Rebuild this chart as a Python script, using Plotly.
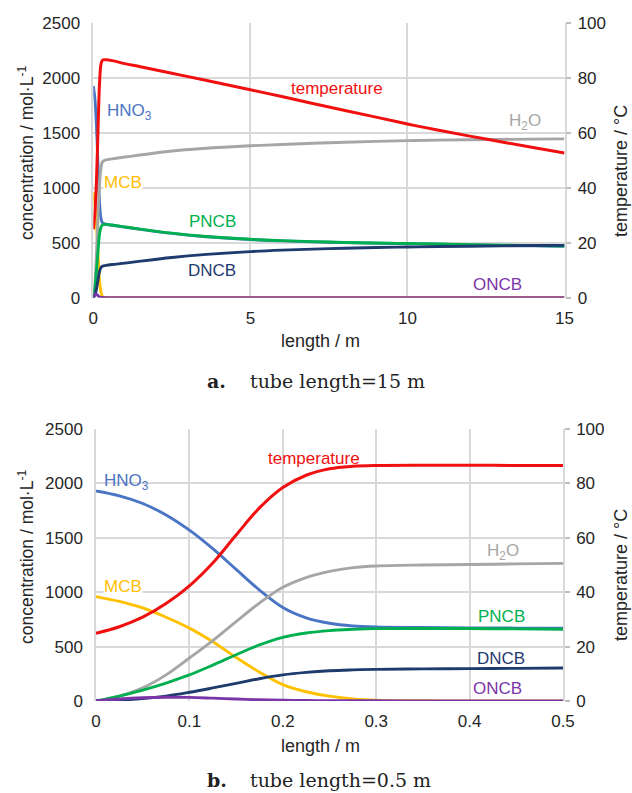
import plotly.graph_objects as go

# ---------------- data: (a) tube length = 15 m ----------------
x_a = [0, 0.05, 0.1, 0.15, 0.2, 0.25, 0.3, 0.4, 0.6, 1, 1.5, 2.5, 3.5, 5, 6, 7.5, 9, 10, 11, 12.5, 14, 15]
temp_a = [24.9, 30.8, 42.3, 61, 78.5, 85.4, 86.6, 86.7, 86.4, 85.3, 84.2, 81.8, 79.4, 75.8, 73.3, 69.5, 65.8, 63.3, 61, 57.8, 54.7, 52.7]
hno3_a = [1930, 1815, 1570, 1210, 860, 715, 680, 670, 660, 643, 623, 586, 558, 530, 518, 505, 496, 492, 487, 479, 472, 469]
h2o_a = [0, 120, 395, 730, 1045, 1192, 1241, 1255, 1265, 1282, 1300, 1337, 1360, 1384, 1396, 1412, 1424, 1431, 1436, 1441, 1445, 1447]
mcb_a = [960, 855, 670, 400, 150, 45, 8, 2, 0, 0, 0, 0, 0, 0, 0, 0, 0, 0, 0, 0, 0, 0]
pncb_a = [0, 100, 240, 425, 585, 647, 665, 668, 662, 645, 625, 588, 560, 532, 520, 507, 498, 494, 489, 481, 474, 471]
dncb_a = [0, 22, 80, 162, 240, 278, 288, 294, 302, 315, 333, 366, 392, 420, 433, 447, 457, 462, 466, 471, 475, 477]
oncb_a = [0, 30, 33, 18, 7, 3, 2, 1, 1, 0, 0, 0, 0, 0, 0, 0, 0, 0, 0, 0, 0, 0]

# ---------------- data: (b) tube length = 0.5 m ----------------
x_b = [0, 0.025, 0.05, 0.075, 0.1, 0.125, 0.15, 0.175, 0.2, 0.225, 0.25, 0.275, 0.3, 0.35, 0.4, 0.45, 0.5]
temp_b = [24.9, 27.3, 30.8, 35.8, 42.3, 50.7, 61, 71, 78.5, 83, 85.4, 86.3, 86.6, 86.7, 86.7, 86.6, 86.6]
hno3_b = [1930, 1885, 1815, 1710, 1570, 1400, 1210, 1020, 860, 765, 715, 690, 680, 675, 672, 670, 668]
h2o_b = [0, 45, 120, 240, 395, 555, 730, 900, 1045, 1135, 1192, 1226, 1241, 1250, 1255, 1260, 1265]
mcb_b = [960, 915, 855, 770, 670, 545, 400, 265, 150, 85, 45, 20, 8, 2, 0, 0, 0]
pncb_b = [0, 45, 100, 165, 240, 330, 425, 515, 585, 625, 647, 658, 665, 667, 666, 663, 660]
dncb_b = [0, 8, 22, 45, 80, 120, 162, 205, 240, 263, 278, 286, 291, 295, 298, 300, 303]
oncb_b = [0, 18, 30, 35, 33, 26, 18, 11, 7, 4, 3, 2, 2, 1, 1, 1, 1]

conc_ticks = [0, 500, 1000, 1500, 2000, 2500]
temp_ticks = [0, 20, 40, 60, 80, 100]
xticks_a = [0, 5, 10, 15]
xticks_b = [0, 0.1, 0.2, 0.3, 0.4, 0.5]

C_T = "#f01010"
C_HNO3 = "#4a74c4"
C_H2O = "#a6a6a6"
C_MCB = "#ffc000"
C_PNCB = "#00b050"
C_DNCB = "#1f3b6e"
C_ONCB = "#7a36a8"

FONT = "Liberation Sans, Arial, sans-serif"
TXT = "#262626"
GRID = "#d9d9d9"

fig = go.Figure()

def add_set(x, hno3, mcb, h2o, pncb, dncb, oncb, temp, xa, ya, ya2):
    series = [(hno3, C_HNO3), (mcb, C_MCB), (h2o, C_H2O), (pncb, C_PNCB), (dncb, C_DNCB), (oncb, C_ONCB)]
    for ys, c in series:
        fig.add_trace(go.Scatter(x=x, y=ys, mode="lines", xaxis=xa, yaxis=ya,
                                 line=dict(color=c, width=2.9, shape="spline", smoothing=1.0),
                                 showlegend=False, hoverinfo="skip"))
    fig.add_trace(go.Scatter(x=x, y=temp, mode="lines", xaxis=xa, yaxis=ya2,
                             line=dict(color=C_T, width=3, shape="spline", smoothing=1.0),
                             showlegend=False, hoverinfo="skip"))

add_set(x_a, hno3_a, mcb_a, h2o_a, pncb_a, dncb_a, oncb_a, temp_a, "x", "y", "y2")
add_set(x_b, hno3_b, mcb_b, h2o_b, pncb_b, dncb_b, oncb_b, temp_b, "x2", "y3", "y4")

W, H = 632, 793
def px(v): return v / W
def py(v): return 1 - v / H

tickfont = dict(family=FONT, size=17, color=TXT)

def xax(domain, ticks, rng, anchor):
    return dict(domain=domain, range=rng, tickvals=ticks, anchor=anchor,
                showgrid=True, gridcolor=GRID, gridwidth=1.5, zeroline=False,
                showline=False, ticks="", tickfont=tickfont, ticklabelstandoff=8,
                automargin=False, fixedrange=True)

def yleft(domain, anchor):
    return dict(domain=domain, range=[0, 2500], tickvals=conc_ticks, anchor=anchor,
                showgrid=True, gridcolor=GRID, gridwidth=1.5, zeroline=False,
                showline=True, linecolor=GRID, linewidth=1.5, ticks="",
                tickfont=tickfont, ticklabelstandoff=8, automargin=False, fixedrange=True)

def yright(overlay, anchor):
    return dict(overlaying=overlay, side="right", range=[0, 100], tickvals=temp_ticks, anchor=anchor,
                showgrid=False, zeroline=False, showline=True, linecolor=GRID, linewidth=1.5,
                ticks="outside", ticklen=5, tickwidth=1.5, tickcolor="#bfbfbf",
                tickfont=tickfont, ticklabelstandoff=3, automargin=False, fixedrange=True)

dom_xa = [px(93.3), px(564.5)]
dom_ya = [py(297.7), py(23.3)]
dom_xb = [px(96), px(563)]
dom_yb = [py(701), py(429)]

fig.update_layout(
    width=W, height=H, margin=dict(l=0, r=0, t=0, b=0),
    paper_bgcolor="white", plot_bgcolor="white",
    xaxis=xax(dom_xa, xticks_a, [0, 15], "y"),
    yaxis=yleft(dom_ya, "x"),
    yaxis2=yright("y", "x"),
    xaxis2=xax(dom_xb, xticks_b, [0, 0.5], "y3"),
    yaxis3=yleft(dom_yb, "x2"),
    yaxis4=yright("y3", "x2"),
)

ann = []
def label(text, x, y, color, xref, yref, xanchor="center", bg=None):
    d = dict(text=text, x=x, y=y, xref=xref, yref=yref, xanchor=xanchor, yanchor="middle",
             showarrow=False, font=dict(family=FONT, size=17, color=color), borderpad=0)
    if bg:
        d["bgcolor"] = bg
    ann.append(d)

# labels (a)
label("temperature", 7.76, 1904, C_T, "x", "y")
label("HNO<sub>3</sub>", 0.4, 1695, C_HNO3, "x", "y", "left", "white")
label("H<sub>2</sub>O", 13.2, 1603, C_H2O, "x", "y", "left")
label("MCB", 0.3, 1050, C_MCB, "x", "y", "left", "white")
label("PNCB", 3.78, 690, C_PNCB, "x", "y")
label("DNCB", 3.78, 249, C_DNCB, "x", "y")
label("ONCB", 12.86, 118, C_ONCB, "x", "y")
# labels (b)
label("temperature", 0.2333, 2231, C_T, "x2", "y3")
label("HNO<sub>3</sub>", 0.0072, 2010, C_HNO3, "x2", "y3", "left")
label("MCB", 0.007, 1050, C_MCB, "x2", "y3", "left", "white")
label("H<sub>2</sub>O", 0.4357, 1372, C_H2O, "x2", "y3")
label("PNCB", 0.434, 775, C_PNCB, "x2", "y3")
label("DNCB", 0.434, 392, C_DNCB, "x2", "y3")
label("ONCB", 0.430, 117, C_ONCB, "x2", "y3")

def title(text, x, y, angle=0, size=18):
    ann.append(dict(text=text, x=px(x), y=py(y), xref="paper", yref="paper",
                    xanchor="center", yanchor="middle", textangle=angle, showarrow=False,
                    font=dict(family=FONT, size=size, color=TXT)))

title("concentration / mol·L<sup>-1</sup>", 26, 153, -90, 17.5)
title("temperature / °C", 621, 171, -90)
title("length / m", 320, 341)
title("concentration / mol·L<sup>-1</sup>", 26, 557, -90, 17.5)
title("temperature / °C", 621, 575, -90)
title("length / m", 320, 746)

def caption(letter, text, y):
    ann.append(dict(text="<b>" + letter + "</b>", x=px(205), y=py(y), xref="paper", yref="paper",
                    xanchor="left", yanchor="middle", showarrow=False,
                    font=dict(family="DejaVu Serif, serif", size=19, color="#222")))
    ann.append(dict(text=text, x=px(248), y=py(y), xref="paper", yref="paper",
                    xanchor="left", yanchor="middle", showarrow=False,
                    font=dict(family="DejaVu Serif, serif", size=19, color="#222")))

caption("a.", "tube length=15 m", 381)
caption("b.", "tube length=0.5 m", 780)

fig.update_layout(annotations=ann)
fig.write_html("out.html")
